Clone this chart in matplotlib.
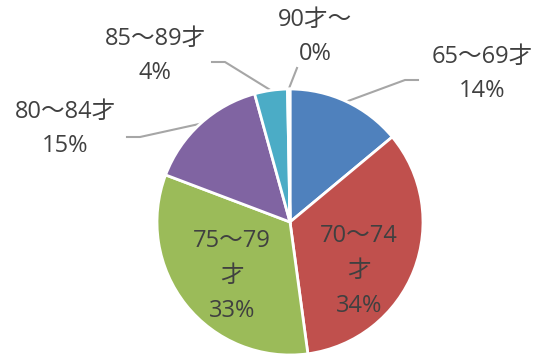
import numpy as np
import matplotlib.pyplot as plt

plt.rcParams['font.family'] = ['Open Sans', 'Noto Sans CJK JP', 'DejaVu Sans']

ages = ['65～69才', '70～74才', '75～79才', '80～84才', '85～89才', '90才～']
shares = [14, 34, 33, 15, 4, 0.3]
colors = ['#4F81BD', '#C0504D', '#9BBB59', '#8064A2', '#4BACC6', '#F79646']

W, H = 541, 356
fig = plt.figure(figsize=(W / 100, H / 100), dpi=100)
ax = fig.add_axes([0, 0, 1, 1])

cx, cy, r = 290, H - 222, 133
wedges, _ = ax.pie(shares, colors=colors, startangle=90, counterclock=False,
                   center=(cx, cy), radius=r, frame=True,
                   wedgeprops=dict(edgecolor='white', linewidth=2))
ax.set_xlim(0, W)
ax.set_ylim(0, H)
ax.set_aspect('equal')
ax.axis('off')

total = sum(shares)
pcts = [round(s / total * 100) for s in shares]
txt = dict(color='#404040', fontsize=17, ha='center', va='center')

# labels inside the two big slices, wrapped before 才
inside = {1: (359, 271), 2: (232, 276)}
for i, (x, y) in inside.items():
    ax.text(x, H - y, f'{ages[i][:-1]}\n{ages[i][-1]}\n{pcts[i]}%',
            linespacing=1.6, **txt)

# outside labels: text centre, then the leader line points after the slice edge
outside = {
    0: ((482, 74), [(405, 80), (418, 80)]),
    3: ((65, 129), [(140, 137), (127, 137)]),
    4: ((155, 56), [(225, 62), (212, 62)]),
    5: ((315, 37), [(297, 68)]),
}
for i, ((tx, ty), line) in outside.items():
    w = wedges[i]
    mid = np.deg2rad((w.theta1 + w.theta2) / 2)
    xs = [cx + r * np.cos(mid)] + [p[0] for p in line]
    ys = [cy + r * np.sin(mid)] + [H - p[1] for p in line]
    ax.plot(xs, ys, color='#A6A6A6', lw=1.5, zorder=0.5)
    ax.text(tx, H - ty, f'{ages[i]}\n{pcts[i]}%', linespacing=1.6, **txt)

fig.savefig('out.png', dpi=100)
